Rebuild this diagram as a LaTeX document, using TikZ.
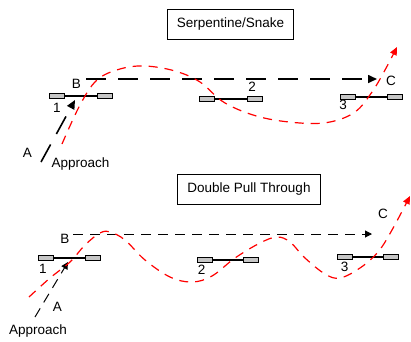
\documentclass[tikz,border=0pt]{standalone}
\usepackage{fontspec}
\setmainfont{Liberation Sans}
\usetikzlibrary{arrows.meta,positioning}

\begin{document}
\begin{tikzpicture}[x=1pt,y=-1pt,
  lbl/.style={inner sep=0pt,font=\fontsize{13.5}{16}\selectfont},
  titlebox/.style={draw,line width=1pt,inner xsep=9.5pt,inner ysep=0pt,minimum height=30pt,font=\fontsize{13.5}{16}\selectfont},
  pad/.style={draw,line width=0.9pt,fill=gray!45,minimum width=15pt,minimum height=4.5pt,inner sep=0pt},
  bar/.style={line width=1.1pt},
  bigpath/.style={line width=1.6pt,dash pattern=on 20pt off 12pt,-{Triangle[length=9pt,width=8pt]}},
  smallpath/.style={line width=1pt,dash pattern=on 10pt off 7pt,-{Triangle[length=7pt,width=7pt]}},
  route/.style={red,line width=1.2pt,dash pattern=on 9pt off 7pt,-{Triangle[length=8pt,width=7pt]}}]
        \useasboundingbox (0,0) rectangle (411,341);
        % serpentine / snake
        \node [titlebox] (ttop) at (230.5,24) {Serpentine/Snake};
        \node [pad] (a1l) at (57,96) {};
        \node [pad] (a1r) at (104.5,96) {};
        \node [pad] (a2l) at (206.5,99) {};
        \node [pad] (a2r) at (254.5,99) {};
        \node [pad] (a3l) at (348,97) {};
        \node [pad] (a3r) at (394.5,97) {};
        \draw [bar] (a1l) -- (a1r);
        \draw [bar] (a2l) -- (a2r);
        \draw [bar] (a3l) -- (a3r);
        \node [lbl] (an1) at (57,108) {1};
        \node [lbl] (an2) at (252,87) {2};
        \node [lbl] (an3) at (343,105) {3};
        \node [lbl] (aB) at (76.5,84) {B};
        \node [lbl] (aC) at (391,81) {C};
        \node [lbl] (aA) at (27.5,153) {A};
        \node [lbl] (aApp) at (80.5,164) {Approach};
        \coordinate (aS) at (86,79);
        \coordinate (aE) at (377,79);
        \coordinate (aIn) at (41,162);
        \coordinate (aGate) at (75,100);
        \draw [bigpath] (aS) -- (aE);
        \draw [bigpath] (aIn) -- (aGate);
        \draw [route] plot [smooth,tension=0.6] coordinates {(62,144) (80,105) (97,80) (120,69) (145,66) (175,71) (200,82) (225,103) (260,117) (300,123) (330,122) (355,112) (372,92) (385,70) (397,47)};
        % double pull through
        \node [titlebox] (tbot) at (249,189.5) {Double Pull Through};
        \node [pad] (b1l) at (46,258) {};
        \node [pad] (b1r) at (93,258) {};
        \node [pad] (b2l) at (204.5,260) {};
        \node [pad] (b2r) at (251,260) {};
        \node [pad] (b3l) at (344.5,257) {};
        \node [pad] (b3r) at (391,257) {};
        \draw [bar] (b1l) -- (b1r);
        \draw [bar] (b2l) -- (b2r);
        \draw [bar] (b3l) -- (b3r);
        \node [lbl] (bn1) at (43,269) {1};
        \node [lbl] (bn2) at (201.5,269.5) {2};
        \node [lbl] (bn3) at (344.5,266.5) {3};
        \node [lbl] (bB) at (65,238.5) {B};
        \node [lbl] (bC) at (383,214) {C};
        \node [lbl] (bA) at (57.5,307) {A};
        \node [lbl] (bApp) at (38,331) {Approach};
        \coordinate (bS) at (73,234);
        \coordinate (bE) at (372,234);
        \coordinate (bIn) at (35,317);
        \coordinate (bGate) at (68,262);
        \draw [smallpath] (bS) -- (bE);
        \draw [smallpath] (bIn) -- (bGate);
        \draw [route] plot [smooth,tension=0.6] coordinates {(29,297) (50,278) (70,262) (85,245) (100,233) (110,232) (125,240) (145,260) (170,277) (192,282) (212,276) (235,258) (260,243) (277,237) (290,242) (305,258) (325,274) (340,278) (360,268) (378,252) (392,230) (410,196)};
\end{tikzpicture}
\end{document}
